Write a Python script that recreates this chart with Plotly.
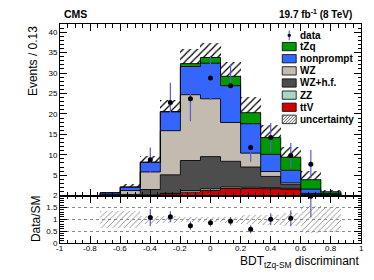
import numpy as np
import plotly.graph_objects as go

# ---------------- data ----------------
n_bins = 15
edges = np.linspace(-1.0, 1.0, n_bins + 1)
centers = 0.5 * (edges[:-1] + edges[1:])
bin_w = edges[1] - edges[0]

ttv       = [0, 0, 0,    0.03, 0.10, 0.45, 0.85, 1.25, 1.75, 1.75, 1.70, 1.60, 0.15, 0.05, 0]
zz        = [0, 0, 0,    0.02, 0.05, 0.10, 0.40, 0.40, 0.35, 0.30, 0.20, 0.20, 0.05, 0.05, 0]
wz_hf     = [0, 0, 0.15, 0.25, 1.35, 4.55, 7.35, 7.90, 6.30, 4.95, 2.80, 0.90, 0.20, 0.10, 0]
wz        = [0, 0, 0.10, 0.95, 4.30, 10.8, 16.1, 14.15, 9.50, 3.40, 1.20, 0.40, 0.15, 0.05, 0]
nonprompt = [0, 0, 0.45, 0.85, 2.35, 4.60, 6.90, 8.70, 9.00, 7.20, 4.20, 3.10, 1.05, 0.25, 0]
tzq       = [0, 0, 0,    0.02, 0.05, 0.10, 0.70, 1.40, 2.30, 2.70, 4.10, 3.20, 2.30, 0.45, 0]
unc       = [0, 0, 0.25, 0.75, 1.40, 2.80, 3.50, 3.50, 3.60, 3.90, 3.00, 2.50, 2.20, 0.50, 0]
data      = [0, 0, 0,    0,    8.8,  22.8, 23.7, 28.8, 26.9, 11.8, 14.2, 9.8,  7.7,  0,    0]
data_err  = [0, 0, 0,    0,    3.0,  4.8,  5.5,  5.4,  5.2,  3.5,  3.6,  3.1,  3.5,  0,    0]

x_tick_vals = [-1, -0.8, -0.6, -0.4, -0.2, 0, 0.2, 0.4, 0.6, 0.8, 1]
x_tick_text = ["-1", "-0.8", "-0.6", "-0.4", "-0.2", "0", "0.2", "0.4", "0.6", "0.8", "1"]
y_tick_vals = [5, 10, 15, 20, 25, 30, 35, 40]
y_tick_text = ["5", "10", "15", "20", "25", "30", "35", "40"]
r_tick_vals = [0, 0.5, 1, 1.5, 2]
r_tick_text = ["0", "0.5", "1", "1.5", "2"]

components = [
    ("ttV", ttv, "#d40000"),
    ("ZZ", zz, "#a9d5c9"),
    ("WZ+h.f.", wz_hf, "#4d4d4d"),
    ("WZ", wz, "#c3bab0"),
    ("nonprompt", nonprompt, "#3366ff"),
    ("tZq", tzq, "#009a00"),
]

FONT = "Liberation Sans"
OFF = 8  # page body margin of the browser
W, H = 374 - OFF, 280 - OFF
ML, MR, MT, MB = 60 - OFF, 12, 21 - OFF, 37
PW, PH = W - ML - MR, H - MT - MB

def px(x):  # window pixel -> paper
    return (x - OFF - ML) / PW

def py(y):
    return (H - MB - (y - OFF)) / PH

split = py(195.0)

fig = go.Figure()

cum = np.zeros(n_bins)
for i, (name, vals, col) in enumerate(components):
    cum = cum + np.array(vals, dtype=float)
    yy = list(cum) + [cum[-1]]
    fig.add_trace(go.Scatter(
        x=edges, y=yy, mode="lines", line=dict(shape="hv", color="black", width=0.9),
        fill="tozeroy" if i == 0 else "tonexty", fillcolor=col, name=name,
        showlegend=False, xaxis="x", yaxis="y", hoverinfo="skip"))
total = cum.copy()
unc_a = np.array(unc, dtype=float)

# uncertainty hatch (main)
fig.add_trace(go.Bar(
    x=centers, y=2 * unc_a, base=total - unc_a, width=bin_w,
    marker=dict(color="black", line=dict(width=0),
                pattern=dict(shape="/", size=5, solidity=0.25, fillmode="replace")),
    showlegend=False, xaxis="x", yaxis="y", hoverinfo="skip"))

# data points (main)
d = np.array(data, dtype=float)
de = np.array(data_err, dtype=float)
m = d > 0
fig.add_trace(go.Scatter(
    x=centers[m], y=d[m], mode="markers",
    marker=dict(color="black", size=5),
    error_y=dict(type="data", array=de[m], color="rgb(90,90,225)", thickness=1.2, width=0),
    showlegend=False, xaxis="x", yaxis="y"))

# ratio band
mt = total > 0
rel = np.zeros(n_bins)
rel[mt] = unc_a[mt] / total[mt]
fig.add_trace(go.Bar(
    x=centers[mt], y=2 * rel[mt], base=1 - rel[mt], width=bin_w,
    marker=dict(color="#8a8a8a", line=dict(width=0),
                pattern=dict(shape="/", size=4, solidity=0.22, fillmode="replace")),
    showlegend=False, xaxis="x2", yaxis="y2", hoverinfo="skip"))

# ratio points
ratio = d[m] / total[m]
ratio_err = de[m] / total[m]
fig.add_trace(go.Scatter(
    x=centers[m], y=ratio, mode="markers",
    marker=dict(color="black", size=5),
    error_y=dict(type="data", array=ratio_err, color="rgb(90,90,225)", thickness=1.2, width=0),
    showlegend=False, xaxis="x2", yaxis="y2", cliponaxis=True))

tickfont = dict(family=FONT, size=8, color="black")
xcommon = dict(range=[-1, 1], showline=True, linecolor="black", linewidth=1, mirror="ticks",
               ticks="inside", ticklen=7, tickcolor="black", tickwidth=1,
               tickvals=x_tick_vals, showticklabels=False,
               minor=dict(dtick=0.05, tick0=0, ticks="inside", ticklen=3.5, tickcolor="black"),
               showgrid=False, zeroline=False)

fig.update_layout(
    width=W, height=H, margin=dict(l=ML, r=MR, t=MT, b=MB),
    paper_bgcolor="white", plot_bgcolor="white", barmode="overlay", bargap=0,
    showlegend=False, font=dict(family=FONT, color="black"),
    xaxis=dict(**xcommon, anchor="y"),
    xaxis2=dict(**xcommon, anchor="y2", matches="x"),
    yaxis=dict(domain=[split, 1], range=[0, 42], showline=True, linecolor="black", linewidth=1,
               mirror="ticks", ticks="inside", ticklen=7, tickcolor="black",
               tickvals=y_tick_vals, ticktext=y_tick_text,
               minor=dict(dtick=1, tick0=0, ticks="inside", ticklen=3.5, tickcolor="black"),
               showgrid=False, zeroline=False, tickfont=tickfont, anchor="x"),
    yaxis2=dict(domain=[0, split], range=[0, 2], showline=True, linecolor="black", linewidth=1,
                mirror="ticks", ticks="inside", ticklen=7, tickcolor="black",
                tickvals=r_tick_vals, ticktext=r_tick_text,
                minor=dict(dtick=0.1, tick0=0, ticks="inside", ticklen=3.5, tickcolor="black"),
                showgrid=True, gridcolor="#8c8c8c", griddash="dot", gridwidth=1,
                zeroline=False, tickfont=tickfont, anchor="x2"),
)

ann = []
# x tick labels (as text under the ratio axis)
for v, t in zip(x_tick_vals, x_tick_text):
    ann.append(dict(text=t, x=v, y=py(248.5), xref="x2", yref="paper",
                    xanchor="center", yanchor="middle", showarrow=False, borderpad=0,
                    font=dict(family=FONT, size=8, color="black")))
ann.append(dict(text="<b>CMS</b>", x=px(62.5), y=py(10.5), xref="paper", yref="paper",
                xanchor="left", yanchor="middle", showarrow=False,
                font=dict(family=FONT, size=10.5, color="black")))
ann.append(dict(text="<b>19.7 fb<sup>-1</sup> (8 TeV)</b>", x=px(355), y=py(10.5), xref="paper", yref="paper",
                xanchor="right", yanchor="middle", showarrow=False,
                font=dict(family=FONT, size=10, color="black")))
ann.append(dict(text="Events / 0.13", x=px(33), y=py(58.5), xref="paper", yref="paper",
                xanchor="center", yanchor="middle", textangle=-90, showarrow=False,
                font=dict(family=FONT, size=12, color="black")))
ann.append(dict(text="Data/SM", x=px(36.7), y=py(218), xref="paper", yref="paper",
                xanchor="center", yanchor="middle", textangle=-90, showarrow=False,
                font=dict(family=FONT, size=12, color="black")))
ann.append(dict(text="BDT<sub>tZq-SM</sub> discriminant", x=px(362), y=py(262), xref="paper", yref="paper",
                xanchor="right", yanchor="middle", showarrow=False,
                font=dict(family=FONT, size=12, color="black")))

shapes = []
# legend
leg_items = [("data", None, 32.5)] + [
    (name, col, yc) for (name, _, col), yc in zip(components[::-1], [43.9, 56.2, 68.5, 80.8, 93.1, 105.4])
] + [("uncertainty", "hatch", 117.7)]
bx0, bx1 = 283.0, 297.0
for name, col, yc in leg_items:
    ann.append(dict(text="<b>" + name + "</b>", x=px(299.5), y=py(yc), xref="paper", yref="paper",
                    xanchor="left", yanchor="middle", showarrow=False, borderpad=0,
                    font=dict(family=FONT, size=10, color="black")))
    if col is None:
        shapes.append(dict(type="line", xref="paper", yref="paper", x0=px(290), x1=px(290),
                           y0=py(yc - 5), y1=py(yc + 5), line=dict(color="rgb(90,90,225)", width=1.2)))
        shapes.append(dict(type="circle", xref="paper", yref="paper", x0=px(288.3), x1=px(291.7),
                           y0=py(yc - 1.7), y1=py(yc + 1.7), fillcolor="black", line=dict(color="black", width=0)))
    elif col == "hatch":
        y0, y1 = yc - 4.3, yc + 4.3
        shapes.append(dict(type="rect", xref="paper", yref="paper", x0=px(bx0), x1=px(bx1),
                           y0=py(y1), y1=py(y0), fillcolor="white", line=dict(color="black", width=0.8)))
        hgt = y1 - y0
        for s in np.arange(bx0 - hgt + 2.5, bx1, 3.0):
            xa, ya = s, y1
            xb, yb = s + hgt, y0
            if xa < bx0:
                ya = y1 - (bx0 - xa); xa = bx0
            if xb > bx1:
                yb = y0 + (xb - bx1); xb = bx1
            if xb - xa > 0.3:
                shapes.append(dict(type="line", xref="paper", yref="paper", x0=px(xa), x1=px(xb),
                                   y0=py(ya), y1=py(yb), line=dict(color="#333333", width=0.8)))
    else:
        shapes.append(dict(type="rect", xref="paper", yref="paper", x0=px(bx0), x1=px(bx1),
                           y0=py(yc + 4.2), y1=py(yc - 4.2), fillcolor=col, line=dict(color="black", width=0.8)))

fig.update_layout(annotations=ann, shapes=shapes)
fig.write_html("out.html")
